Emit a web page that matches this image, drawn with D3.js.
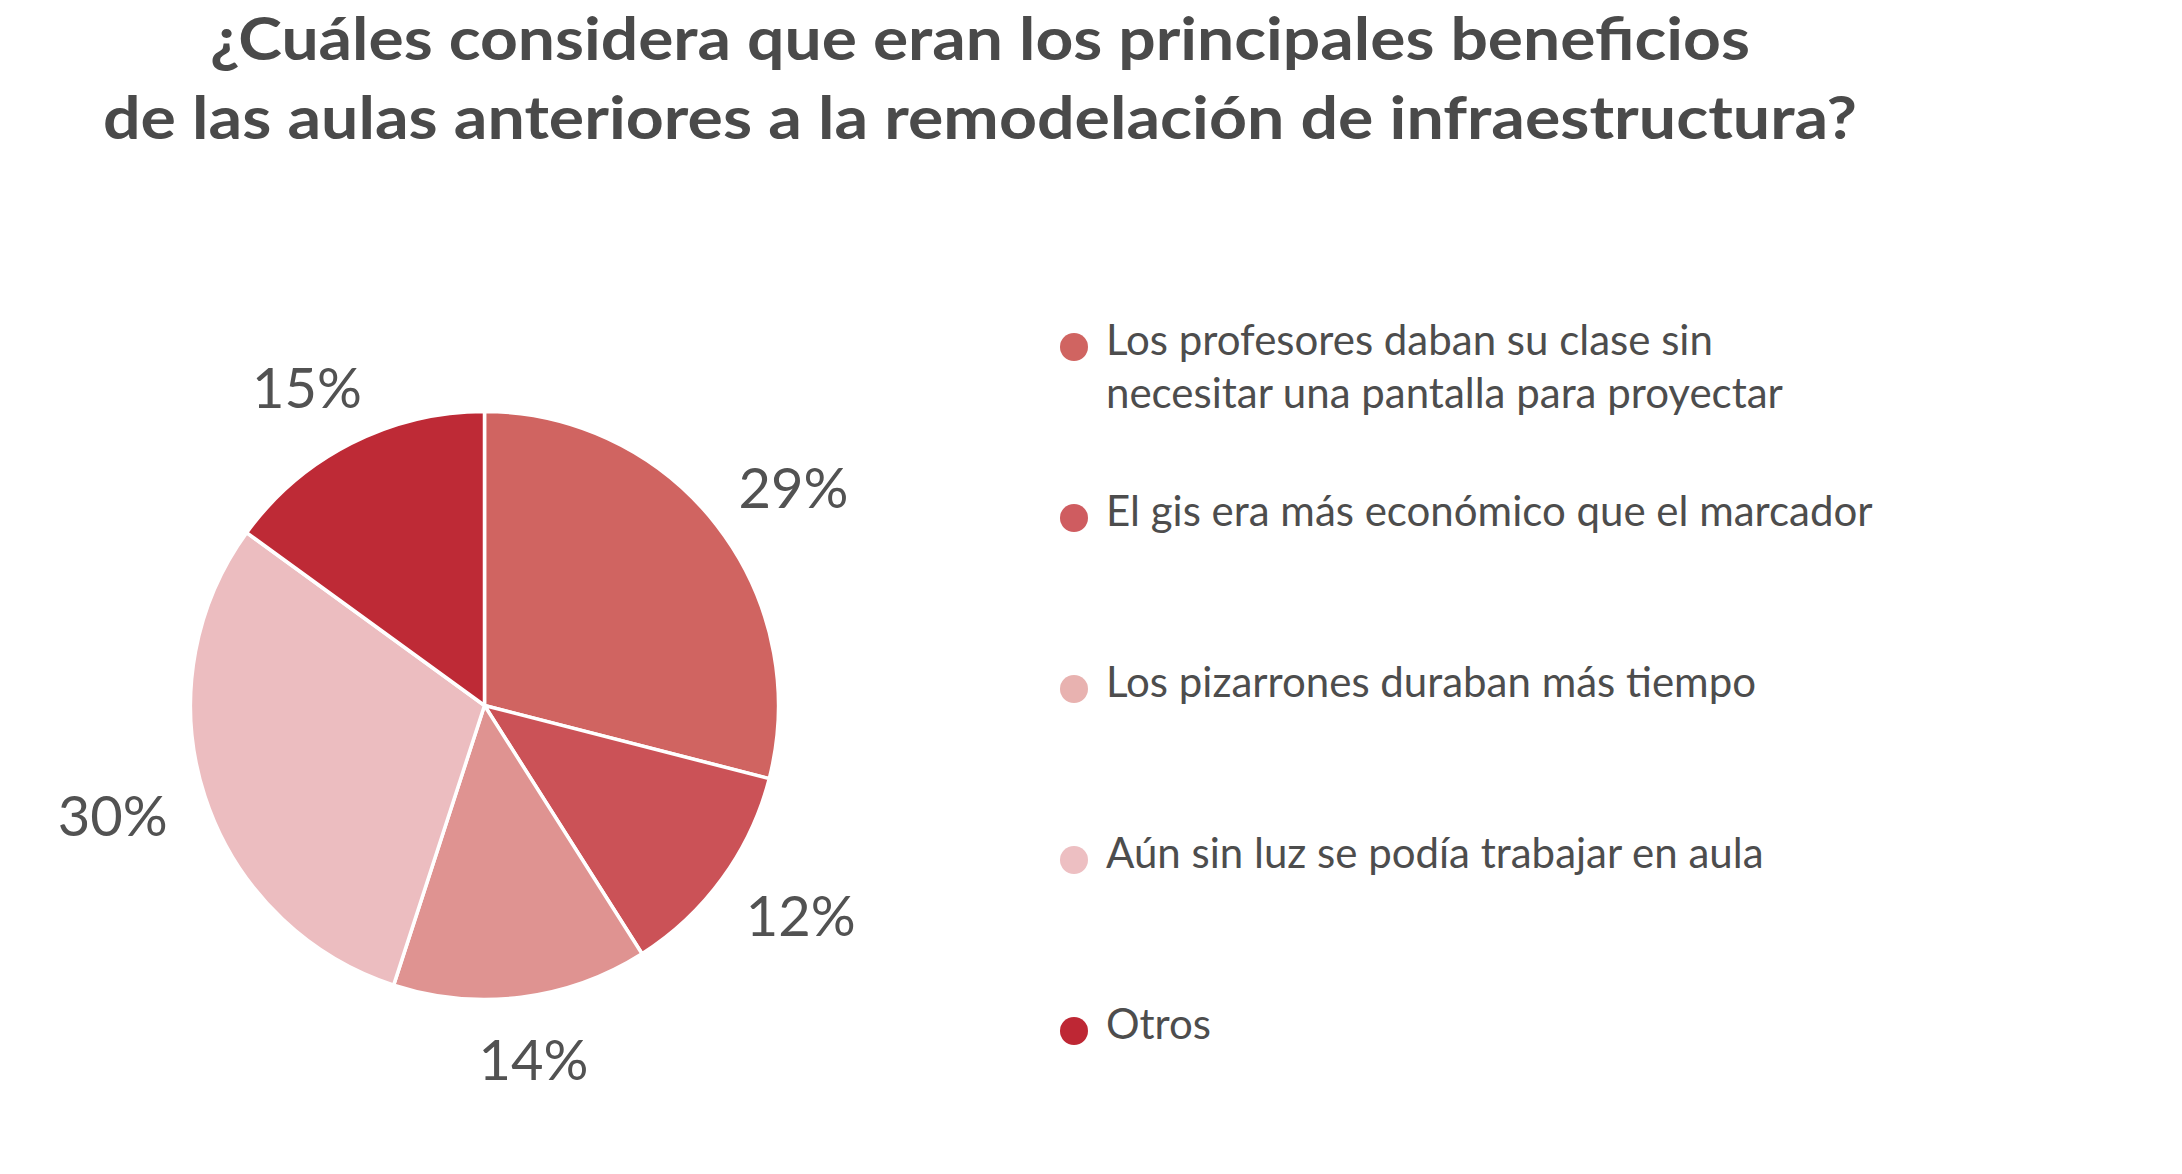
<!DOCTYPE html>
<html><head><meta charset="utf-8">
<script src="https://cdn.jsdelivr.net/npm/d3@7"></script>
<style>html,body{margin:0;padding:0;background:#fff;} svg{display:block;}</style>
</head><body>
<svg id="chart" width="2182" height="1174"></svg>
<script>
// ---- data ----
const titleLines = [
  "¿Cuáles considera que eran los principales beneficios",
  "de las aulas anteriores a la remodelación de infraestructura?"
];
const categories = [
  "Los profesores daban su clase sin\nnecesitar una pantalla para proyectar",
  "El gis era más económico que el marcador",
  "Los pizarrones duraban más tiempo",
  "Aún sin luz se podía trabajar en aula",
  "Otros"
];
const values = [29, 12, 14, 30, 15];
const valueLabels = ["29%", "12%", "14%", "30%", "15%"];
const sliceColors = ["#D06461", "#CB5257", "#DF9391", "#ECBDC0", "#BE2A36"];
const legendColors = ["#D06461", "#CF5C60", "#E8B2B0", "#EDBFC2", "#BE2734"];

// ---- layout ----
const W = 2182, H = 1174;
const svg = d3.select("#chart");
svg.append("rect").attr("width", W).attr("height", H).attr("fill", "#fff");

const textColor = "#4d4d4d";

// title
const titleG = svg.append("g");
const titleWidths = [1540, 1754];
titleG.selectAll("text").data(titleLines).join("text")
  .attr("x", 980)
  .attr("y", (d, i) => 59.5 + i * 79)
  .attr("text-anchor", "middle")
  .attr("font-family", "Lato, 'Open Sans', sans-serif")
  .attr("font-weight", 700)
  .attr("font-size", 59)
  .attr("fill", "#4a4a4a")
  .attr("textLength", (d, i) => titleWidths[i])
  .attr("lengthAdjust", "spacingAndGlyphs")
  .text(d => d);

// pie
const cx = 484.5, cy = 705.5, R = 294;
const pie = d3.pie().sort(null).value(d => d)(values);
const arc = d3.arc().innerRadius(0).outerRadius(R);
const pieG = svg.append("g").attr("transform", `translate(${cx},${cy})`);
pieG.selectAll("path").data(pie).join("path")
  .attr("d", arc)
  .attr("fill", (d, i) => sliceColors[i])
  .attr("stroke", "#fff")
  .attr("stroke-width", 3.5)
  .attr("stroke-linejoin", "round");

// value labels (outside end, box touching a radius)
const labelR = 336;
const labels = pieG.selectAll("text.val").data(pie).join("text")
  .attr("class", "val")
  .attr("font-family", "Lato, 'Open Sans', sans-serif")
  .attr("font-weight", 400)
  .attr("font-size", 56)
  .attr("fill", "#525252")
  .attr("text-anchor", "middle")
  .text((d, i) => valueLabels[i]);
labels.each(function(d) {
  const a = (d.startAngle + d.endAngle) / 2;
  const w = this.getComputedTextLength();
  const h = 41;
  const s = Math.sin(a), c = Math.cos(a);
  const x = labelR * s + s * w / 2;
  const y = -labelR * c - c * h / 2;
  d3.select(this).attr("x", x).attr("y", y + h / 2);
});

// legend
const legendY = d3.scalePoint().domain(d3.range(categories.length)).range([347, 1031]);
const legG = svg.append("g");
const items = legG.selectAll("g").data(categories).join("g")
  .attr("transform", (d, i) => `translate(1074,${legendY(i)})`);
items.append("circle").attr("r", 14).attr("fill", (d, i) => legendColors[i]);
items.append("text")
  .attr("x", 32)
  .attr("y", 8)
  .attr("font-family", "Lato, 'Open Sans', sans-serif")
  .attr("font-size", 42)
  .attr("fill", textColor)
  .selectAll("tspan").data(d => d.split("\n")).join("tspan")
  .attr("x", 32)
  .attr("dy", (d, i) => i === 0 ? 0 : 53)
  .text(d => d);
</script>
</body></html>
